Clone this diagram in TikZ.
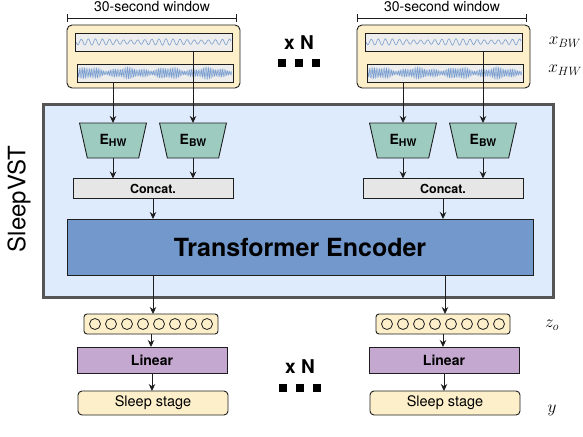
\documentclass[tikz,border=0pt]{standalone}
\usepackage{fontspec}
\setmainfont{TeX Gyre Heros}
\usetikzlibrary{shapes.geometric,arrows.meta}
\definecolor{cream}{HTML}{FCEFCA}
\definecolor{sigfill}{HTML}{EDEDED}
\definecolor{wavecol}{HTML}{7B9FD0}
\definecolor{encfill}{HTML}{9ECBBF}
\definecolor{vstfill}{HTML}{DDEBFD}
\definecolor{vstline}{HTML}{555555}
\definecolor{catfill}{HTML}{E6E6E6}
\definecolor{trfill}{HTML}{7298CC}
\definecolor{linfill}{HTML}{C4A8D0}
\definecolor{ink}{HTML}{1E1E1E}
\tikzset{
  box/.style={draw=ink, line width=0.9pt, inner sep=0pt, outer sep=0pt},
  winbox/.style={box, fill=cream, rounded corners=5pt, minimum width=173pt, minimum height=63pt},
  sigbox/.style={box, fill=sigfill, minimum width=157pt, minimum height=18pt},
  encbox/.style={box, fill=encfill, trapezium, shape border rotate=180, trapezium stretches=true,
     trapezium left angle=72.5, trapezium right angle=72.5, minimum width=67pt, minimum height=35pt},
  catbox/.style={box, fill=catfill, minimum width=160pt, minimum height=20pt, font=\fontsize{12.5}{12.5}\selectfont\bfseries},
  zbox/.style={box, fill=cream, rounded corners=3pt, minimum width=134pt, minimum height=20pt},
  linbox/.style={box, fill=linfill, minimum width=150pt, minimum height=26pt, font=\fontsize{14}{14}\selectfont\bfseries},
  stagebox/.style={box, fill=cream, rounded corners=4pt, minimum width=150pt, minimum height=24pt, font=\fontsize{14.5}{14.5}\selectfont},
  arr/.style={draw=ink, line width=0.9pt, -{Stealth[length=7pt,width=6.5pt]}},
  plain/.style={draw=ink, line width=0.9pt},
  sq/.style={fill=black, minimum size=8pt, inner sep=0pt},
  xn/.style={font=\fontsize{19}{19}\selectfont\bfseries, inner sep=0pt},
  mlab/.style={font=\fontsize{16.5}{16.5}\selectfont, inner sep=0pt},
}
\newcommand\encname[1]{\fontsize{14}{14}\selectfont\bfseries E\raisebox{-0.35ex}{\fontsize{10.5}{10.5}\selectfont #1}}
\begin{document}
\begin{tikzpicture}[x=1pt,y=-1pt]
\useasboundingbox (0,0) rectangle (583,436);
% SleepVST container
\node[draw=vstline, line width=3pt, fill=vstfill, minimum width=510pt, minimum height=193pt, inner sep=0pt] (vst) at (298,200.5) {};
\node[rotate=90, font=\fontsize{24}{24}\selectfont, inner sep=0pt] (vstlab) at (19,199) {SleepVST};
% transformer
\node[box, fill=trfill, minimum width=466pt, minimum height=56pt, font=\fontsize{25}{25}\selectfont\bfseries] (tr) at (300,247) {Transformer Encoder};

\foreach \o/\s in {0/L,290/R}{
  % window
  \node[font=\fontsize{14}{14}\selectfont, inner sep=0pt] (wlab\s) at (152+\o,7) {30-second window};
  \draw[plain] (67+\o,18) -- (236+\o,18);
  \draw[plain] (67+\o,14) -- (67+\o,22);
  \draw[plain] (236+\o,14) -- (236+\o,22);
  \node[winbox] (win\s) at (153.5+\o,56.5) {};
  \node[sigbox] (sigBW\s) at (153.5+\o,42) {};
  \node[sigbox, minimum width=156pt] (sigHW\s) at (155+\o,73) {};
  \begin{scope}
    \clip (76+\o,34) rectangle (231+\o,50);
    \draw[wavecol, line width=0.6pt] plot[domain=0:155, samples=320] ({76+\o+\x}, {42+(2.6+0.6*sin(\x*5))*sin(\x*51)});
  \end{scope}
  \begin{scope}
    \clip (78+\o,65) rectangle (232+\o,81);
    \draw[wavecol, line width=0.45pt] plot[domain=0:154, samples=900] ({78+\o+\x}, {73+(3.8+1.2*sin(\x*9)+0.9*sin(\x*23))*sin(mod(\x,50)*209)});
  \end{scope}
  % encoders
  \node[encbox] (encHW\s) at (113+\o,140.5) {\encname{HW}};
  \node[encbox] (encBW\s) at (193+\o,140.5) {\encname{BW}};
  \node[catbox] (cat\s) at (153+\o,188.5) {Concat.};
  \draw[arr] (encHW\s.north |- sigHW\s.south) -- (encHW\s.north);
  \draw[arr] (encBW\s.north |- sigBW\s.south) -- (encBW\s.north);
  \draw[arr] (encHW\s.south) -- (encHW\s.south |- cat\s.north);
  \draw[arr] (encBW\s.south) -- (encBW\s.south |- cat\s.north);
  \draw[arr] (cat\s.south) -- (cat\s.south |- tr.north);
}
\foreach \o/\s in {0/L,292/R}{
  \node[zbox] (z\s) at (151+\o,324) {};
  \foreach \i in {0,...,7}{
    \node[draw=ink, line width=0.8pt, circle, minimum size=11pt, inner sep=0pt] (c\s\i) at (95+\o+16*\i,324) {};
  }
  \node[linbox] (lin\s) at (152+\o,360) {Linear};
  \node[stagebox] (st\s) at (153+\o,403) {Sleep stage};
  \draw[arr] (z\s.south) -- (z\s.south |- lin\s.north);
  \draw[arr] (lin\s.south) -- (lin\s.south |- st\s.north);
}
\draw[arr] (153,275) -- (zL.north -| 153,0);
\draw[arr] (445,275) -- (zR.north -| 445,0);
% x N
\node[xn] (xn1) at (299,43) {x N};
\node[sq] (s1a) at (282,63) {};
\node[sq] (s1b) at (299,63) {};
\node[sq] (s1c) at (316,63) {};
\node[xn] (xn2) at (300,367) {x N};
\node[sq] (s2a) at (283,388) {};
\node[sq] (s2b) at (300,388) {};
\node[sq] (s2c) at (317,388) {};
% math labels
\node[mlab] (xbw) at (565,42) {$x_{BW}$};
\node[mlab] (xhw) at (565,70) {$x_{HW}$};
\node[mlab] (zo) at (552,325) {$z_o$};
\node[mlab] (yl) at (552,410) {$y$};
\end{tikzpicture}
\end{document}
